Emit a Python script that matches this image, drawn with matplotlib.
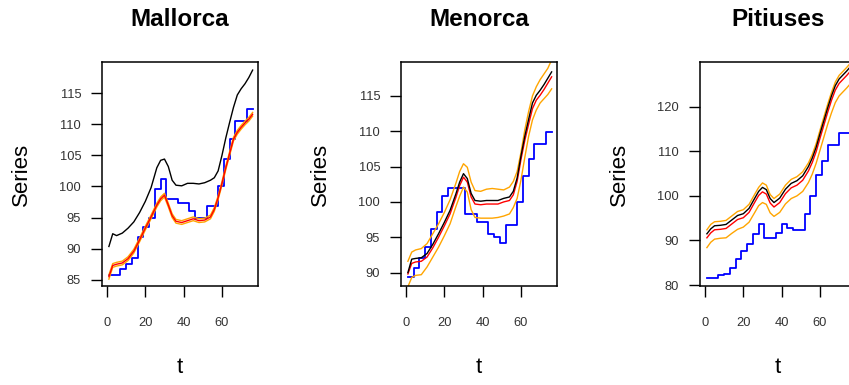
import numpy as np
import matplotlib.pyplot as plt

plt.rcParams['font.family'] = ['Liberation Sans', 'DejaVu Sans']

# tiempos (meses) donde se leyeron los valores de las curvas
t_knots = [1, 3, 5, 8, 11, 14, 17, 20, 23, 26, 28, 30, 32, 34, 36, 39,
           42, 45, 48, 51, 54, 56, 58, 60, 62, 64, 66, 68, 70, 72, 74, 76]
n_months = 76

titles = ["Mallorca", "Menorca", "Pitiuses"]
ylims = [(84.0, 120.0), (88.1, 119.8), (79.8, 130.0)]
yticks = [[85, 90, 95, 100, 105, 110, 115],
          [90, 95, 100, 105, 110, 115],
          [80, 90, 100, 110, 120]]
xticks = [0, 20, 40, 60]

# Mallorca
black_mal = [90.35, 92.4, 92.1, 92.5, 93.3, 94.3, 95.8, 97.6, 99.8, 103.0, 104.2, 104.4, 103.2, 101.0, 100.2, 100.1,
             100.5, 100.5, 100.4, 100.6, 101.0, 101.4, 102.5, 105.0, 107.8, 110.3, 112.7, 114.7, 115.7, 116.5, 117.5, 118.7]
red_mal = [85.5, 87.3, 87.5, 87.7, 88.4, 89.6, 91.4, 93.3, 95.1, 97.0, 98.0, 98.6, 97.0, 95.3, 94.4, 94.2,
           94.5, 94.8, 94.5, 94.6, 95.1, 96.3, 98.2, 100.5, 103.0, 105.3, 107.6, 108.7, 109.5, 110.2, 110.8, 111.6]
hi_mal = [85.8, 87.6, 87.8, 88.0, 88.7, 89.9, 91.7, 93.6, 95.4, 97.3, 98.3, 98.9, 97.3, 95.6, 94.7, 94.5,
          94.8, 95.1, 94.8, 94.9, 95.4, 96.6, 98.5, 100.8, 103.3, 105.6, 107.9, 109.0, 109.8, 110.5, 111.1, 111.9]
lo_mal = [85.1, 87.0, 87.2, 87.4, 88.1, 89.3, 91.1, 93.0, 94.8, 96.7, 97.7, 98.3, 96.7, 95.0, 94.1, 93.9,
          94.2, 94.5, 94.2, 94.3, 94.8, 96.0, 97.9, 100.2, 102.7, 105.0, 107.3, 108.4, 109.2, 109.9, 110.5, 111.3]
blue_mal = [85.7, 85.7, 86.7, 87.5, 88.5, 91.8, 93.5, 95.0, 99.6, 101.2, 98.0, 98.0, 97.3,
            97.3, 96.1, 95.0, 95.0, 96.9, 96.9, 100.1, 104.4, 107.6, 110.5, 110.5, 112.4, 112.4]

# Menorca
black_men = [90.0, 91.9, 92.0, 92.1, 92.7, 94.0, 95.5, 97.1, 98.8, 101.1, 102.8, 104.0, 103.3, 101.2, 100.2, 100.1,
             100.2, 100.2, 100.2, 100.5, 100.7, 101.5, 103.4, 106.5, 109.3, 111.7, 114.0, 115.1, 115.8, 116.6, 117.5, 118.4]
red_men = [89.8, 91.3, 91.5, 91.6, 92.2, 93.5, 95.0, 96.6, 98.3, 100.6, 102.3, 103.5, 102.8, 100.7, 99.7, 99.6,
           99.7, 99.7, 99.7, 100.0, 100.2, 101.0, 102.9, 106.0, 108.7, 111.0, 113.2, 114.4, 115.1, 115.9, 116.8, 117.7]
hi_men = [91.6, 92.9, 93.2, 93.4, 94.1, 95.5, 96.9, 98.5, 100.3, 102.6, 104.3, 105.4, 104.9, 102.8, 101.6, 101.5,
          101.8, 101.9, 101.8, 101.7, 102.1, 102.9, 104.3, 107.0, 110.2, 112.8, 115.0, 116.3, 117.3, 118.1, 118.9, 120.1]
lo_men = [88.0, 89.3, 89.6, 89.7, 90.8, 92.2, 93.6, 95.2, 96.9, 99.3, 100.8, 102.1, 101.4, 98.9, 97.8, 97.7,
          97.7, 97.7, 97.8, 98.0, 98.3, 99.2, 100.5, 103.1, 106.3, 109.3, 111.6, 113.0, 114.0, 114.6, 115.2, 116.0]
blue_men = [89.4, 90.6, 92.0, 93.6, 96.2, 98.6, 100.9, 102.0, 102.0, 102.0, 98.3, 98.3, 97.2,
            97.2, 95.5, 95.1, 94.2, 96.7, 96.7, 100.0, 103.6, 106.1, 108.2, 108.2, 109.9, 109.9]

# Pitiuses
black_pit = [91.5, 92.6, 93.3, 93.4, 93.6, 94.6, 95.6, 96.0, 97.2, 99.5, 101.0, 101.9, 101.4, 99.4, 98.5, 99.5,
             101.5, 102.8, 103.4, 104.5, 106.6, 108.5, 110.9, 113.9, 116.8, 119.7, 122.4, 124.7, 126.2, 127.1, 128.0, 129.0]
red_pit = [90.6, 91.7, 92.4, 92.5, 92.7, 93.7, 94.7, 95.1, 96.3, 98.6, 100.1, 100.9, 100.4, 98.4, 97.5, 98.5,
           100.5, 101.8, 102.4, 103.5, 105.6, 107.5, 109.9, 112.9, 115.8, 118.7, 121.4, 123.7, 125.2, 126.1, 127.0, 128.0]
hi_pit = [92.4, 93.6, 94.2, 94.3, 94.5, 95.5, 96.5, 96.9, 98.1, 100.4, 101.9, 102.9, 102.4, 100.3, 99.4, 100.4,
          102.4, 103.7, 104.3, 105.4, 107.4, 109.3, 111.7, 114.7, 117.6, 120.5, 123.2, 125.5, 127.0, 127.9, 128.8, 129.8]
lo_pit = [88.4, 89.6, 90.3, 90.5, 90.6, 91.6, 92.5, 93.0, 94.1, 96.3, 97.8, 98.5, 98.1, 96.2, 95.4, 96.3,
          98.2, 99.4, 100.0, 101.0, 103.0, 104.9, 107.3, 110.2, 113.1, 116.0, 118.6, 120.9, 122.4, 123.3, 124.2, 125.2]
blue_pit = [81.5, 81.5, 82.2, 82.6, 83.9, 85.8, 87.6, 89.3, 91.4, 93.6, 90.6, 90.6, 91.7,
            93.6, 92.9, 92.3, 92.3, 95.9, 100.0, 104.7, 107.9, 111.5, 111.5, 114.2, 114.2, 114.2]

blacks = [black_mal, black_men, black_pit]
reds = [red_mal, red_men, red_pit]
his = [hi_mal, hi_men, hi_pit]
los = [lo_mal, lo_men, lo_pit]
blues = [blue_mal, blue_men, blue_pit]

W, H = 849, 385
fig = plt.figure(figsize=(W / 100, H / 100), dpi=100)

lefts = [102, 401, 700]
ax_w, ax_top, ax_bot = 156, 62, 286

t_month = np.arange(1, n_months + 1)

for i in range(3):
    ax = fig.add_axes([lefts[i] / W, 1 - ax_bot / H, ax_w / W, (ax_bot - ax_top) / H])

    # serie trimestral mostrada en escalones mensuales
    blue_m = np.repeat(blues[i], 3)[:n_months]
    ax.plot(t_month, blue_m, color='#0000ff', lw=1.3, drawstyle='steps-post')
    ax.plot(t_knots, his[i], color='#ffa500', lw=1.0)
    ax.plot(t_knots, los[i], color='#ffa500', lw=1.0)
    ax.plot(t_knots, reds[i], color='#ff0000', lw=1.0)
    ax.plot(t_knots, blacks[i], color='black', lw=1.0)

    ax.set_xlim(-2.6, 78.8)
    ax.set_ylim(*ylims[i])
    ax.set_xticks(xticks)
    ax.set_yticks(yticks[i])
    ax.tick_params(direction='out', length=8, width=1.0, labelsize=9.3,
                   labelcolor='#333333', color='black')
    ax.tick_params(axis='x', pad=14)
    ax.tick_params(axis='y', pad=7)
    for s in ax.spines.values():
        s.set_linewidth(1.1)
        s.set_color('black')

    ax.set_title(titles[i], fontsize=17.5, fontweight='bold', pad=26)
    ax.set_ylabel("Series", fontsize=16)
    ax.yaxis.set_label_coords(-70 / ax_w, 0.5)
    ax.set_xlabel("t", fontsize=16)
    ax.xaxis.set_label_coords(0.5, -71 / (ax_bot - ax_top))

fig.savefig("out.png", dpi=100)
